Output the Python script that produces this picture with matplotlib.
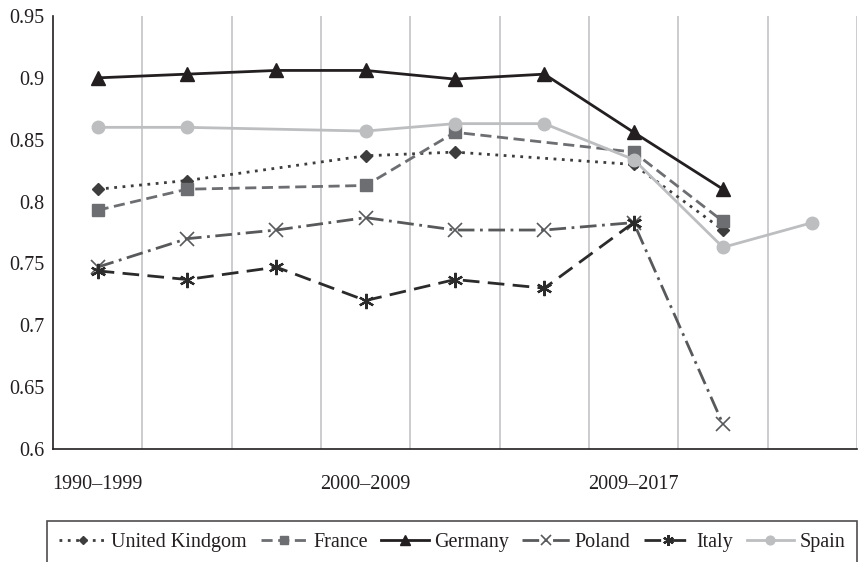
import numpy as np
import matplotlib.pyplot as plt

plt.rcParams['font.family'] = ['Liberation Serif', 'DejaVu Serif']

# nine periods on the x axis, only three carry a label
tick_labels = ["1990–1999", "", "", "2000–2009", "", "", "2009–2017", "", ""]

# None = no value for that period (line joins the neighbours)
uk      = [0.810, 0.817, None, 0.837, 0.840, None, 0.830, 0.777, None]
france  = [0.793, 0.810, None, 0.813, 0.856, None, 0.840, 0.784, None]
germany = [0.900, 0.903, 0.906, 0.906, 0.899, 0.903, 0.856, 0.810, None]
poland  = [0.747, 0.770, 0.777, 0.787, 0.777, 0.777, 0.783, 0.620, None]
italy   = [0.744, 0.737, 0.747, 0.720, 0.737, 0.730, 0.783, None, None]
spain   = [0.860, 0.860, None, 0.857, 0.863, 0.863, 0.834, 0.763, 0.783]

series = [
    ("United Kindgom", uk,      dict(color="#3d3d3e", ls=(0, (1, 2)), marker="D", ms=6.5)),
    ("France",         france,  dict(color="#6d6e71", ls=(0, (4, 2)), marker="s", ms=8.5)),
    ("Germany",        germany, dict(color="#231f20", ls="-", marker="^", ms=9.5)),
    ("Poland",         poland,  dict(color="#58595b", ls=(0, (6, 2, 1, 2)), marker="x", ms=10, mew=1.2)),
    ("Italy",          italy,   dict(color="#2b2b2c", ls=(0, (6, 3)), marker=(6, 2, 0), ms=11, mew=1.6)),
    ("Spain",          spain,   dict(color="#bcbec0", ls="-", marker="o", ms=9)),
]

fig = plt.figure(figsize=(8.62, 5.62), dpi=100)
ax = fig.add_axes([53/862, 1-449/562, 804/862, 433/562])

x = np.arange(len(tick_labels)) + 0.5
for name, vals, st in series:
    v = np.array([np.nan if a is None else a for a in vals])
    ok = ~np.isnan(v)
    ax.plot(x[ok], v[ok], label=name, lw=2, **st)

ax.set_xlim(0, 9)
ax.set_ylim(0.6, 0.95)
ax.set_yticks([0.6, 0.65, 0.7, 0.75, 0.8, 0.85, 0.9, 0.95])
ax.set_yticklabels(["0.6", "0.65", "0.7", "0.75", "0.8", "0.85", "0.9", "0.95"])
ax.set_xticks(x)
ax.set_xticklabels(tick_labels)
ax.tick_params(length=0, labelsize=14.5, colors="#231f20")
ax.tick_params(axis="x", pad=19)
ax.tick_params(axis="y", pad=6)

# vertical separators between periods
for g in range(1, 10):
    ax.axvline(g, color="#c4c4c6", lw=1.2, zorder=0)

for s in ["top", "right"]:
    ax.spines[s].set_visible(False)
for s in ["left", "bottom"]:
    ax.spines[s].set_color("#231f20")
    ax.spines[s].set_linewidth(1.2)

# legend box spans the plot width, runs off the bottom edge
leg = fig.legend(loc="upper left", bbox_to_anchor=(47/862, 1-521/562, 810/862, 0.0),
                 mode="expand", ncol=6,
                 fontsize=14.5, frameon=True, fancybox=False, edgecolor="#231f20",
                 handlelength=2.35, handletextpad=0.25, columnspacing=0.45,
                 borderpad=0.6, borderaxespad=0, markerscale=0.7)
leg.get_frame().set_linewidth(1.2)
for t in leg.get_texts():
    t.set_color("#231f20")

fig.savefig("out.png", dpi=100)
